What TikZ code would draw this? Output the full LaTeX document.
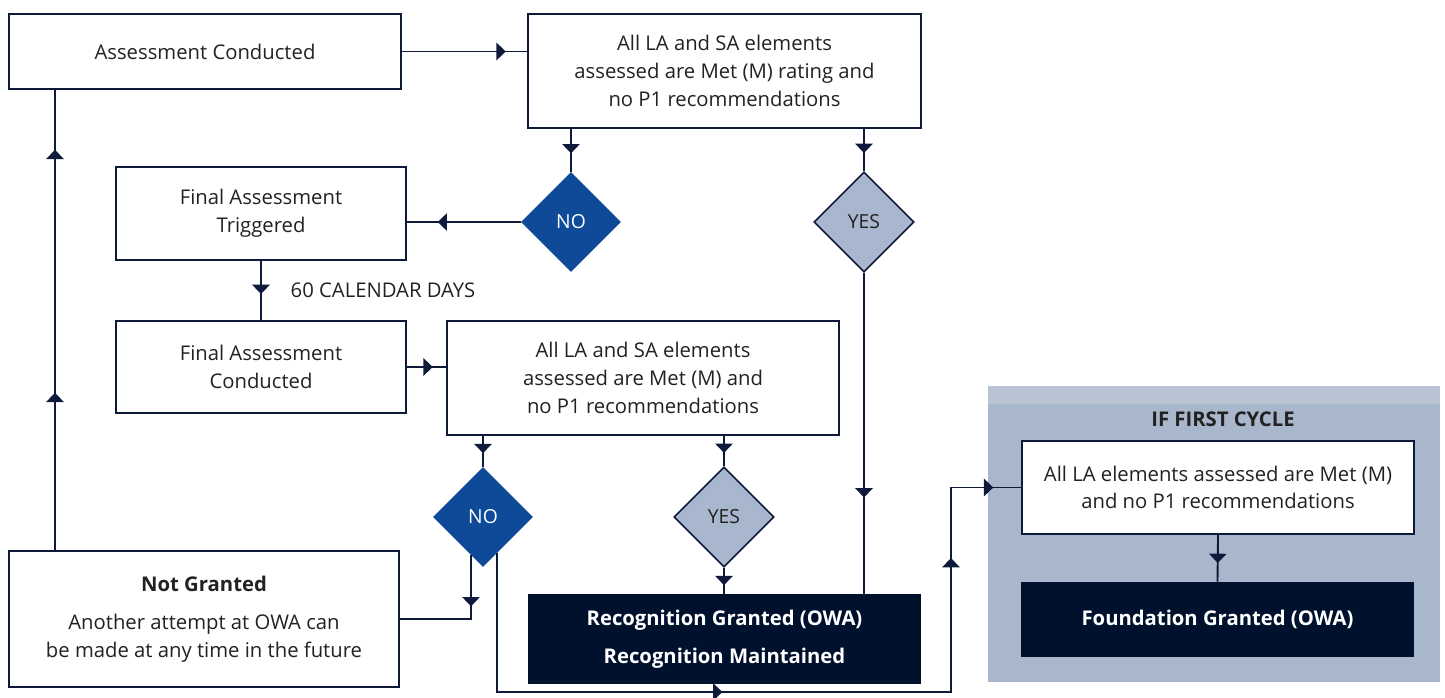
\documentclass[tikz,border=0pt]{standalone}
\usepackage{fontspec}
\setmainfont{Open Sans}
\usetikzlibrary{arrows.meta}
\usetikzlibrary{positioning}
\usetikzlibrary{calc}
\usetikzlibrary{shapes.geometric}
\usetikzlibrary{decorations.markings}

\definecolor{navy}{HTML}{00112E}
\definecolor{lineblue}{HTML}{0E1A3A}
\definecolor{noblue}{HTML}{0F4A98}
\definecolor{yesgrey}{HTML}{A8B6CE}
\definecolor{cyclebg}{HTML}{A9B7CD}
\definecolor{cycletop}{HTML}{B9C3D4}
\definecolor{inktext}{HTML}{222222}

\newcommand{\fltip}{\arrow{Triangle[width=13pt,length=7pt]}}

\tikzset{
  box/.style={draw=lineblue, line width=1.4pt, fill=white, align=center, inner sep=0pt,
    text=inktext, font=\fontsize{15.2}{20.8}\selectfont},
  darkbox/.style={fill=navy, text=white, align=center, inner sep=0pt,
    font=\fontsize{15.2}{20.8}\selectfont\bfseries},
  nodia/.style={diamond, fill=noblue, text=white, minimum width=75pt, minimum height=75pt,
    inner sep=0pt, font=\fontsize{14.5}{16}\selectfont},
  yesdia/.style={diamond, draw=lineblue, line width=1.2pt, fill=yesgrey, text=inktext,
    minimum width=75pt, minimum height=75pt, inner sep=0pt, font=\fontsize{14.5}{16}\selectfont},
  flow/.style={color=lineblue, line width=1.4pt},
  tip/.style={postaction=decorate, decoration={markings, mark=at position #1 with {\fltip}}},
}

\begin{document}
\begin{tikzpicture}[x=0.75pt,y=-0.75pt,line join=miter]
\useasboundingbox (0,0) rectangle (1445,697);

% first cycle panel
\fill[cyclebg] (988,386) rectangle (1440,682);
\fill[cycletop] (988,386) rectangle (1440,404);
\node[font=\fontsize{15.2}{18}\selectfont\bfseries, text=inktext] (cycle) at (1223,419) {IF FIRST CYCLE};

% boxes
\node[box, minimum width=294pt, minimum height=56.25pt] (ac) at (205,51.5) {Assessment Conducted};
\node[box, minimum width=294.75pt, minimum height=85.5pt] (c1) at (724.5,71)
  {All LA and SA elements\\assessed are Met (M) rating and\\no P1 recommendations};
\node[box, minimum width=217.5pt, minimum height=69.75pt] (fat) at (261,213.5) {Final Assessment\\Triggered};
\node[box, minimum width=217.5pt, minimum height=69pt] (fac) at (261,367) {Final Assessment\\Conducted};
\node[box, minimum width=294pt, minimum height=85.5pt] (c2) at (643,378)
  {All LA and SA elements\\assessed are Met (M) and\\no P1 recommendations};
\node[box, minimum width=292.5pt, minimum height=102pt] (ng) at (204,619)
  {{\bfseries Not Granted}\\[8pt]Another attempt at OWA can\\be made at any time in the future};
\node[darkbox, minimum width=294.75pt, minimum height=67.5pt] (rg) at (724.5,639)
  {Recognition Granted (OWA)\\[8pt]Recognition Maintained};
\node[box, minimum width=294pt, minimum height=69.75pt] (fc) at (1218,487.5)
  {All LA elements assessed are Met (M)\\and no P1 recommendations};
\node[darkbox, minimum width=294.75pt, minimum height=56.25pt] (fg) at (1217.5,619.5) {Foundation Granted (OWA)};

% decisions
\node[nodia] (no1) at (571,222) {NO};
\node[yesdia] (yes1) at (864,222) {YES};
\node[nodia] (no2) at (483,517) {NO};
\node[yesdia] (yes2) at (724,517) {YES};

\coordinate (lx) at (55,0);
\coordinate (bot) at (951,692);

% connectors
\draw[flow, tip=0.83] (ac.east) -- (ac.east -| c1.west);
\draw[flow, tip=0.57] (no1.north |- c1.south) -- (no1.north);
\draw[flow, tip=0.57] (yes1.north |- c1.south) -- (yes1.north);
\draw[flow, tip=0.73] (no1.west) -- (no1.west -| fat.east);
\draw[flow, tip=0.56] (fat.south) -- (fac.north);
\node[anchor=west, text=inktext, font=\fontsize{15.2}{18}\selectfont] (days) at (286,290) {60 CALENDAR DAYS};
\draw[flow, tip=0.66] (fac.east) -- (fac.east -| c2.west);
\draw[flow, tip=0.56] (no2.north |- c2.south) -- (no2.north);
\draw[flow, tip=0.56] (yes2.north |- c2.south) -- (yes2.north);
\draw[flow, tip=0.67] (yes2.south) -- (yes2.south |- rg.north);
\draw[flow, tip=0.70] (yes1.south) -- (yes1.south |- rg.north);
\draw[flow, tip=0.38] ($(no2.center)+(-12,38)$) |- (ng.east);
\draw[flow, postaction=decorate, decoration={markings,
    mark=at position 0.42 with {\fltip},
    mark=at position 0.838 with {\fltip},
    mark=at position 0.968 with {\fltip}}]
  ($(no2.center)+(14,36)$) |- (bot) |- (fc.west);
\draw[flow, postaction=decorate, decoration={markings,
    mark=at position 0.342 with {\fltip},
    mark=at position 0.87 with {\fltip}}]
  (lx |- ng.north) -- (lx |- ac.south);
\draw[flow, tip=0.60] (fc.south) -- (fg.north);
\end{tikzpicture}
\end{document}
